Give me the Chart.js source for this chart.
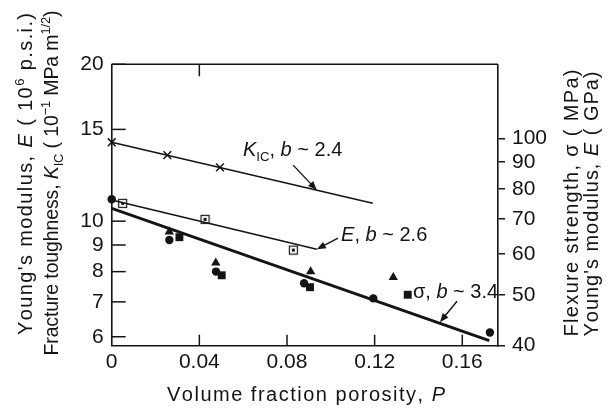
<!DOCTYPE html>
<html><head><meta charset="utf-8">
<script src="https://cdn.jsdelivr.net/npm/chart.js@4.4.0/dist/chart.umd.min.js"></script>
<style>html,body{margin:0;padding:0;background:#fff}canvas{display:block}</style>
</head><body>
<canvas id="c" width="616" height="414"></canvas>
<script>
const FONT = "'Liberation Sans', Arial, Helvetica, sans-serif";
const INK = '#141414';

// ---- axis ticks ----
const xTicks = [0, 0.04, 0.08, 0.12, 0.16];
const xTickLabels = ['0', '0.04', '0.08', '0.12', '0.16'];
const xTopTicks = [0.04];
const yTicks = [6, 7, 8, 9, 10, 15, 20];
const yTickLabels = ['6', '7', '8', '9', '10', '15', '20'];
const y2Ticks = [40, 50, 60, 70, 80, 90, 100];
const y2TickLabels = ['40', '50', '60', '70', '80', '90', '100'];

// ---- fracture toughness K_IC (10^-1 MPa m^1/2), left axis ----
const kP = [0, 0.0254, 0.0494];
const kVal = [14.17, 13.39, 12.68];
const kFitP = [0, 0.1191];
const kFitVal = [14.17, 10.82];

// ---- Young's modulus E (10^6 p.s.i.), left axis ----
const eP = [0.005, 0.0426, 0.0829];
const eVal = [10.82, 10.08, 8.80];
const eFitP = [0, 0.0936];
const eFitVal = [10.98, 8.83];

// ---- flexure strength sigma (MPa), right axis ----
const sCircleP = [0, 0.0263, 0.0476, 0.0878, 0.1194, 0.1726];
const sCircleVal = [76.4, 63.8, 55.5, 52.7, 49.3, 42.4];
const sTriP = [0.0263, 0.0475, 0.0908, 0.1285];
const sTriVal = [66.2, 57.7, 55.5, 54.1];
const sSqP = [0.0309, 0.0502, 0.0905, 0.1351];
const sSqVal = [64.6, 54.6, 51.8, 50.1];
const sFitP = [0, 0.1723];
const sFitVal = [73.4, 40.9];

// axis ranges
const xMin = 0, xMax = 0.1763;
const yMin = 5.767, yMax = 20;
const y2Min = 40, y2Max = 138.7;

function zip(a, b) { return a.map((v, i) => ({ x: v, y: b[i] })); }

function boxMarker() {
  const c = document.createElement('canvas');
  c.width = 11; c.height = 11;
  const g = c.getContext('2d');
  g.strokeStyle = INK; g.lineWidth = 1.2;
  g.strokeRect(1.5, 1.5, 8, 8);
  g.fillStyle = INK;
  g.fillRect(4, 4, 3, 3);
  return c;
}

function drawRich(ctx, segs, o) {
  const size = o.size;
  const items = [];
  segs.forEach(s => {
    const small = s.sub || s.sup;
    const sz = small ? size * 0.66 : size;
    const font = (s.i ? 'italic ' : '') + sz.toFixed(1) + 'px ' + FONT;
    const dy = s.sub ? size * 0.26 : (s.sup ? -size * 0.42 : 0);
    for (const ch of s.t) items.push({ ch, font, dy });
  });
  let nat = 0;
  items.forEach(it => { ctx.font = it.font; it.w = ctx.measureText(it.ch).width; nat += it.w; });
  let sp = o.spacing || 0;
  if (o.width) sp = (o.width - nat) / (items.length - 1);
  const total = nat + sp * (items.length - 1);
  ctx.save();
  ctx.translate(o.x, o.y);
  if (o.rotate) ctx.rotate(o.rotate);
  ctx.fillStyle = INK;
  ctx.textBaseline = 'alphabetic';
  ctx.textAlign = 'left';
  let x = o.align === 'center' ? -total / 2 : 0;
  items.forEach(it => { ctx.font = it.font; ctx.fillText(it.ch, x, it.dy); x += it.w + sp; });
  ctx.restore();
}

function arrow(ctx, x1, y1, x2, y2) {
  const ang = Math.atan2(y2 - y1, x2 - x1);
  const L = 9, W = 3.6;
  ctx.save();
  ctx.strokeStyle = INK; ctx.fillStyle = INK; ctx.lineWidth = 1.4;
  ctx.beginPath();
  ctx.moveTo(x1, y1);
  ctx.lineTo(x2 - Math.cos(ang) * L * 0.8, y2 - Math.sin(ang) * L * 0.8);
  ctx.stroke();
  ctx.beginPath();
  ctx.moveTo(x2, y2);
  ctx.lineTo(x2 - Math.cos(ang) * L + Math.sin(ang) * W, y2 - Math.sin(ang) * L - Math.cos(ang) * W);
  ctx.lineTo(x2 - Math.cos(ang) * L - Math.sin(ang) * W, y2 - Math.sin(ang) * L + Math.cos(ang) * W);
  ctx.closePath();
  ctx.fill();
  ctx.restore();
}

// annotations in data coordinates (x = porosity, y = left-axis value)
const annotations = [
  { text: [{ t: 'K', i: true }, { t: 'IC', sub: true }, { t: ', ' }, { t: 'b', i: true }, { t: ' ~ 2.4' }],
    at: [0.0599, 13.35], tail: [0.0828, 12.81], head: [0.0936, 11.47] },
  { text: [{ t: 'E', i: true }, { t: ', ' }, { t: 'b', i: true }, { t: ' ~ 2.6' }],
    at: [0.1047, 9.17], tail: [0.1033, 9.28], head: [0.0936, 8.83] },
  { text: [{ t: 'σ, ' }, { t: 'b', i: true }, { t: ' ~ 3.4' }],
    at: [0.1375, 7.11], tail: [0.1576, 7.02], head: [0.1498, 6.40] }
];

const decor = {
  id: 'decor',
  afterDraw(chart) {
    const { ctx, chartArea: a, scales } = chart;
    const X = scales.x, Y = scales.y;
    ctx.save();
    ctx.strokeStyle = INK; ctx.lineWidth = 1.5;
    // top border
    ctx.beginPath(); ctx.moveTo(a.left, a.top); ctx.lineTo(a.right, a.top); ctx.stroke();
    // inward ticks, left axis
    yTicks.forEach(v => {
      const py = Y.getPixelForValue(v);
      ctx.beginPath(); ctx.moveTo(a.left, py); ctx.lineTo(a.left + 14, py); ctx.stroke();
    });
    // inward ticks, bottom
    xTicks.forEach(v => {
      if (v === xMin) return;
      const px = X.getPixelForValue(v);
      ctx.beginPath(); ctx.moveTo(px, a.bottom); ctx.lineTo(px, a.bottom - 11); ctx.stroke();
    });
    // inward ticks, top
    xTopTicks.forEach(v => {
      const px = X.getPixelForValue(v);
      ctx.beginPath(); ctx.moveTo(px, a.top); ctx.lineTo(px, a.top + 12); ctx.stroke();
    });
    ctx.restore();

    // annotations
    annotations.forEach(an => {
      drawRich(ctx, an.text, { x: X.getPixelForValue(an.at[0]), y: Y.getPixelForValue(an.at[1]), size: 20 });
      arrow(ctx, X.getPixelForValue(an.tail[0]), Y.getPixelForValue(an.tail[1]),
                 X.getPixelForValue(an.head[0]), Y.getPixelForValue(an.head[1]));
    });

    // axis titles
    const midY = (a.top + a.bottom) / 2;
    drawRich(ctx, [{ t: "Young's modulus, " }, { t: 'E', i: true }, { t: ' ( 10' }, { t: '6', sup: true }, { t: ' p.s.i.)' }],
      { x: 32, y: midY - 31, size: 20, align: 'center', width: 322, rotate: -Math.PI / 2 });
    drawRich(ctx, [{ t: 'Fracture toughness, ' }, { t: 'K', i: true }, { t: 'IC', sub: true }, { t: ' ( 10' }, { t: '−1', sup: true }, { t: ' MPa m' }, { t: '1/2', sup: true }, { t: ')' }],
      { x: 58, y: midY - 22, size: 19.5, align: 'center', width: 345, rotate: -Math.PI / 2 });
    drawRich(ctx, [{ t: 'Flexure strength, σ ( MPa)' }],
      { x: 578, y: 203, size: 20, align: 'center', width: 267, rotate: -Math.PI / 2 });
    drawRich(ctx, [{ t: "Young's modulus, " }, { t: 'E', i: true }, { t: ' ( GPa)' }],
      { x: 598, y: 204, size: 20, align: 'center', width: 265, rotate: -Math.PI / 2 });
    drawRich(ctx, [{ t: 'Volume fraction porosity, ' }, { t: 'P', i: true }],
      { x: 306, y: 401, size: 20, align: 'center', width: 278 });
  }
};

const tickFont = { family: FONT, size: 21 };

new Chart(document.getElementById('c'), {
  type: 'scatter',
  data: {
    datasets: [
      { data: zip(kFitP, kFitVal), showLine: true, borderColor: INK, borderWidth: 1.6, pointRadius: 0, yAxisID: 'y' },
      { data: zip(kP, kVal), pointStyle: 'crossRot', pointRadius: 5.5, borderColor: INK, borderWidth: 1.5, yAxisID: 'y', clip: false },
      { data: zip(eFitP, eFitVal), showLine: true, borderColor: INK, borderWidth: 1.6, pointRadius: 0, yAxisID: 'y' },
      { data: zip(eP, eVal), pointStyle: boxMarker(), pointRadius: 5, yAxisID: 'y', clip: false },
      { data: zip(sFitP, sFitVal), showLine: true, borderColor: INK, borderWidth: 2.8, pointRadius: 0, yAxisID: 'y2' },
      { data: zip(sCircleP, sCircleVal), pointStyle: 'circle', pointRadius: 4.2, backgroundColor: INK, borderColor: INK, borderWidth: 0, yAxisID: 'y2', clip: false },
      { data: zip(sTriP, sTriVal), pointStyle: 'triangle', pointRadius: 5.4, backgroundColor: INK, borderColor: INK, borderWidth: 0, yAxisID: 'y2', clip: false },
      { data: zip(sSqP, sSqVal), pointStyle: 'rect', pointRadius: 5.6, backgroundColor: INK, borderColor: INK, borderWidth: 0, yAxisID: 'y2', clip: false }
    ]
  },
  options: {
    responsive: false,
    animation: false,
    devicePixelRatio: 1,
    events: [],
    layout: { padding: { top: 64.3, left: 0, right: 0, bottom: 0 } },
    plugins: { legend: { display: false }, tooltip: { enabled: false } },
    scales: {
      x: {
        type: 'linear', min: xMin, max: xMax,
        afterBuildTicks: s => { s.ticks = xTicks.map(v => ({ value: v })); },
        afterFit: s => { s.height = 414 - 345.7; },
        ticks: { callback: (v) => xTickLabels[xTicks.indexOf(v)] ?? '', font: tickFont, color: INK, padding: 4, autoSkip: false, maxRotation: 0 },
        grid: { display: false, drawTicks: false },
        border: { display: true, color: INK, width: 1.6 }
      },
      y: {
        type: 'logarithmic', position: 'left', min: yMin, max: yMax,
        afterBuildTicks: s => { s.ticks = yTicks.map(v => ({ value: v })); },
        afterFit: s => { s.width = 111.7; },
        ticks: { callback: (v) => yTickLabels[yTicks.indexOf(v)] ?? '', font: tickFont, color: INK, padding: 8, autoSkip: false },
        grid: { display: false, drawTicks: false },
        border: { display: true, color: INK, width: 1.6 }
      },
      y2: {
        type: 'logarithmic', position: 'right', min: y2Min, max: y2Max,
        afterBuildTicks: s => { s.ticks = y2Ticks.map(v => ({ value: v })); },
        afterFit: s => { s.width = 616 - 498; },
        ticks: { callback: (v) => y2TickLabels[y2Ticks.indexOf(v)] ?? '', font: tickFont, color: INK, padding: 7, autoSkip: false },
        grid: { display: true, drawOnChartArea: false, drawTicks: true, tickLength: 7, color: INK, lineWidth: 1.5 },
        border: { display: true, color: INK, width: 1.6 }
      }
    }
  },
  plugins: [decor]
});
</script>
</body></html>
